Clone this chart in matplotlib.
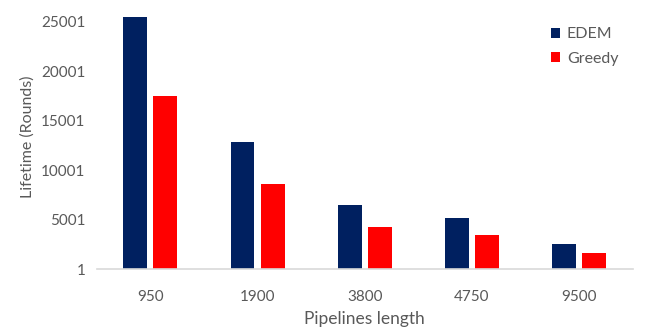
import matplotlib.pyplot as plt
import numpy as np

# Data
categories = ['950', '1900', '3800', '4750', '9500']
edem = [25500, 12850, 6450, 5130, 2530]
greedy = [17560, 8600, 4250, 3440, 1620]
yticks = [1, 5001, 10001, 15001, 20001, 25001]

plt.rcParams['font.family'] = ['Lato', 'DejaVu Sans']
gray = '#595959'

fig = plt.figure(figsize=(6.45, 3.29), dpi=100)
ax = fig.add_axes([0.150, 0.182, 0.831, 0.803])

x = np.arange(len(categories))
w = 0.223
ax.bar(x - 0.14, edem, width=w, color='#002060', label='EDEM')
ax.bar(x + 0.14, greedy, width=w, color='#ff0000', label='Greedy')

ax.set_xlim(-0.5, len(categories) - 0.5)
ax.set_ylim(1, 26720)
ax.set_yticks(yticks)
ax.set_xticks(x, categories)
ax.tick_params(axis='both', length=0, labelsize=11, colors=gray)
ax.tick_params(axis='x', pad=15)
ax.tick_params(axis='y', pad=8)

for s in ['top', 'right', 'left']:
    ax.spines[s].set_visible(False)
ax.spines['bottom'].set_color('#d9d9d9')
ax.spines['bottom'].set_linewidth(1.2)

ax.set_xlabel('Pipelines length', fontsize=12.5, color=gray, labelpad=5)
ax.set_ylabel('Lifetime (Rounds)', fontsize=11.5, color=gray, labelpad=5)

ax.legend(loc='upper right', bbox_to_anchor=(1.0, 0.97), frameon=False,
          fontsize=11.5, labelcolor=gray, handlelength=0.6, handleheight=0.6,
          handletextpad=0.4, labelspacing=0.65)

plt.savefig('out.png', dpi=100)
